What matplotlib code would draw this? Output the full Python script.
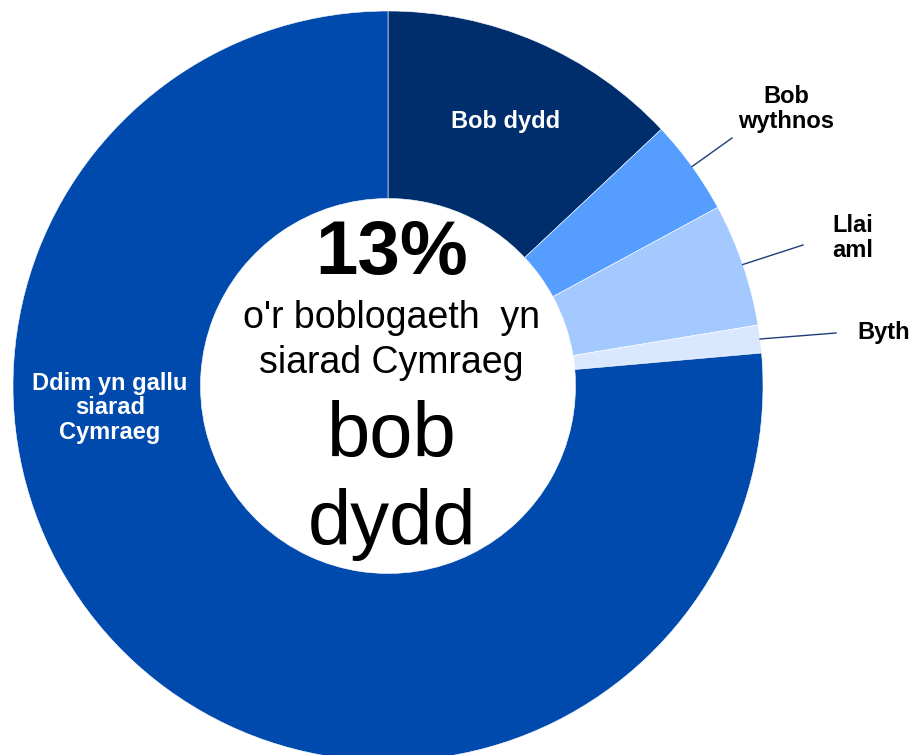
import numpy as np
import matplotlib
matplotlib.use('Agg')
import matplotlib.pyplot as plt

# Welsh speaking frequency, share of the population (%)
categories = ['Bob dydd', 'Bob wythnos', 'Llai aml', 'Byth', 'Ddim yn gallu siarad Cymraeg']
shares = [13, 4.1, 5.3, 1.2, 76.4]
colours = ['#002d6b', '#559dff', '#a4c9ff', '#dae8ff', '#004aad']

headline = '13%'
subline = ["o'r boblogaeth  yn", 'siarad Cymraeg']
bigline = ['bob', 'dydd']

plt.rcParams['font.family'] = ['Liberation Sans', 'DejaVu Sans']

W, H = 913, 755
fig = plt.figure(figsize=(W / 100, H / 100), dpi=100)

# donut centre and outer radius in pixels
cx, cy, R = 388, 386, 375
ax = fig.add_axes([(cx - R) / W, (H - cy - R) / H, 2 * R / W, 2 * R / H])

wedges, _ = ax.pie(shares, colors=colours, startangle=90, counterclock=False,
                   radius=1, wedgeprops=dict(width=0.5, edgecolor='white', linewidth=0.4))
ax.set_xlim(-1, 1)
ax.set_ylim(-1, 1)
ax.set_aspect('equal')
ax.axis('off')


def px(x, y):
    # pixel position -> data coords of the donut axes
    return (x - cx) / R, (cy - y) / R


def lines(texts, x, baselines, **kw):
    for t, b in zip(texts, baselines):
        ax.text(*px(x, b), t, ha='center', va='baseline', **kw)


# labels inside the ring
lines(['Bob dydd'], 506, [128], color='white', fontsize=17, fontweight='bold')
lines(['Ddim yn gallu', 'siarad', 'Cymraeg'], 110, [390, 414, 439],
      color='white', fontsize=17, fontweight='bold')

# labels outside with leader lines from the wedge middle
outside = {1: (['Bob', 'wythnos'], 786, [103, 128], (732, 138)),
           2: (['Llai', 'aml'], 853, [232, 257], (803, 245)),
           3: (['Byth'], 884, [339], (836, 333))}
for i, (txt, lx, bl, end) in outside.items():
    w = wedges[i]
    ang = np.deg2rad((w.theta1 + w.theta2) / 2)
    ex, ey = px(*end)
    ax.plot([np.cos(ang), ex], [np.sin(ang), ey], color='#1f3d7a', lw=1, clip_on=False)
    lines(txt, lx, bl, color='black', fontsize=17, fontweight='bold')

# centre text
lines([headline], 392, [274], color='black', fontsize=55, fontweight='bold')
lines(subline, 391, [328, 373], color='black', fontsize=27)
lines(bigline, 392, [457, 545], color='black', fontsize=56)

fig.savefig('out.png', dpi=100, facecolor='white')
